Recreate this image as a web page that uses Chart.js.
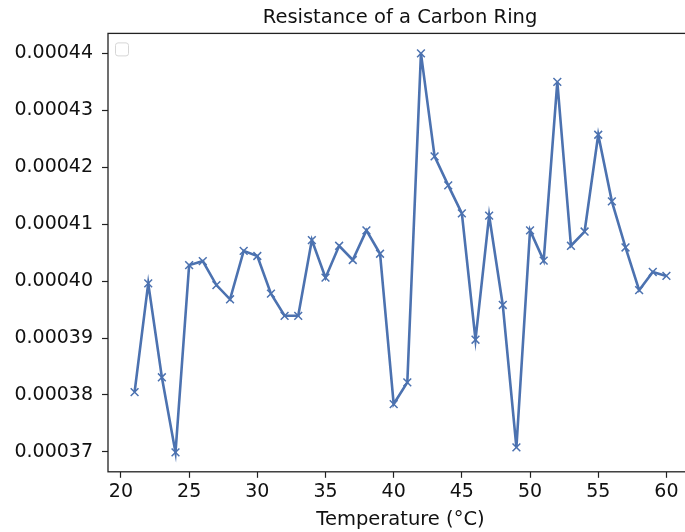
<!DOCTYPE html>
<html>
<head>
<meta charset="utf-8">
<script src="https://cdn.jsdelivr.net/npm/chart.js@4"></script>
<style>
  html, body { margin: 0; padding: 0; background: #fff; overflow: hidden; }
  #wrap { width: 800px; height: 532px; }
</style>
</head>
<body>
<div id="wrap"><canvas id="chart" width="800" height="532"></canvas></div>
<script>
// Temperatur-Messpunkte (°C)
const temps = [
  21, 22, 23, 24, 25, 26, 27, 28, 29, 30,
  31, 32, 33, 34, 35, 36, 37, 38, 39, 40,
  41, 42, 43, 44, 45, 46, 47, 48, 49, 50,
  51, 52, 53, 54, 55, 56, 57, 58, 59, 60
];

// Widerstand
const resistance = [
  0.0003805, 0.0003996, 0.0003831, 0.0003699, 0.0004028, 0.0004035, 0.0003993, 0.0003968, 0.0004053, 0.0004044,
  0.0003978, 0.0003939, 0.0003939, 0.0004072, 0.0004006, 0.0004062, 0.0004037, 0.0004089, 0.0004048, 0.0003784,
  0.0003822, 0.0004400, 0.0004219, 0.0004168, 0.0004119, 0.0003897, 0.0004115, 0.0003958, 0.0003708, 0.0004089,
  0.0004036, 0.0004350, 0.0004062, 0.0004087, 0.0004257, 0.0004140, 0.0004059, 0.0003984, 0.0004016, 0.0004009
];

const xTicks = [20, 25, 30, 35, 40, 45, 50, 55, 60];
const yTicks = [0.00037, 0.00038, 0.00039, 0.00040, 0.00041, 0.00042, 0.00043, 0.00044];

const lineColor = "#4C72B0";
const axisColor = "#222";
const font = "DejaVu Sans";

// Rahmen um die Plotfläche + leere Legende wie im Original
const framePlugin = {
  id: "frame",
  afterDraw(chart) {
    const { ctx, chartArea: a } = chart;
    ctx.save();
    ctx.strokeStyle = axisColor;
    ctx.lineWidth = 1.3;
    ctx.strokeRect(a.left, a.top, a.right - a.left, a.bottom - a.top);
    // leere Legendenbox
    ctx.strokeStyle = "#d6d6d6";
    ctx.lineWidth = 1;
    ctx.beginPath();
    ctx.roundRect(a.left + 7.5, a.top + 9.5, 13, 13, 2.5);
    ctx.stroke();
    ctx.restore();
  }
};

const points = temps.map((t, i) => ({ x: t, y: resistance[i] }));

new Chart(document.getElementById("chart"), {
  type: "line",
  data: {
    datasets: [{
      data: points,
      borderColor: lineColor,
      borderWidth: 2.6,
      pointStyle: "crossRot",
      pointRadius: 5.5,
      pointBorderWidth: 1.5,
      pointBorderColor: lineColor,
      pointBackgroundColor: lineColor,
      tension: 0,
      fill: false
    }]
  },
  options: {
    responsive: false,
    devicePixelRatio: 1,
    animation: false,
    layout: { padding: { left: 0, right: 0, top: 0, bottom: 0 } },
    plugins: {
      legend: { display: false },
      tooltip: { enabled: false },
      title: {
        display: true,
        text: "Resistance of a Carbon Ring",
        color: "#111",
        font: { family: font, size: 19.5, weight: "normal" },
        padding: { top: 6, bottom: 4 }
      }
    },
    scales: {
      x: {
        type: "linear",
        min: 19.05,
        max: 61.95,
        afterBuildTicks: (scale) => { scale.ticks = xTicks.map(v => ({ value: v })); },
        grid: { display: true, drawOnChartArea: false, drawTicks: true, tickLength: 6, tickColor: axisColor, tickWidth: 1.2 },
        border: { display: false },
        ticks: { color: "#111", font: { family: font, size: 19 }, padding: 3, maxRotation: 0 },
        title: {
          display: true,
          text: "Temperature (°C)",
          color: "#111",
          font: { family: font, size: 19.5 },
          padding: { top: 2, bottom: 0 }
        }
      },
      y: {
        type: "linear",
        min: 0.0003665,
        max: 0.0004435,
        afterBuildTicks: (scale) => { scale.ticks = yTicks.map(v => ({ value: v })); },
        afterFit: (scale) => { scale.width = 108; },
        grid: { display: true, drawOnChartArea: false, drawTicks: true, tickLength: 6, tickColor: axisColor, tickWidth: 1.2 },
        border: { display: false },
        ticks: {
          color: "#111",
          font: { family: font, size: 19 },
          padding: 9,
          callback: (v) => v.toFixed(5)
        }
      },
      // unsichtbare rechte Achse, damit der Titel mittig über der Plotfläche sitzt
      yRight: {
        type: "linear",
        position: "right",
        display: true,
        afterFit: (scale) => { scale.width = 107; },
        grid: { display: false },
        border: { display: false },
        ticks: { display: false }
      }
    }
  },
  plugins: [framePlugin]
});
</script>
</body>
</html>
